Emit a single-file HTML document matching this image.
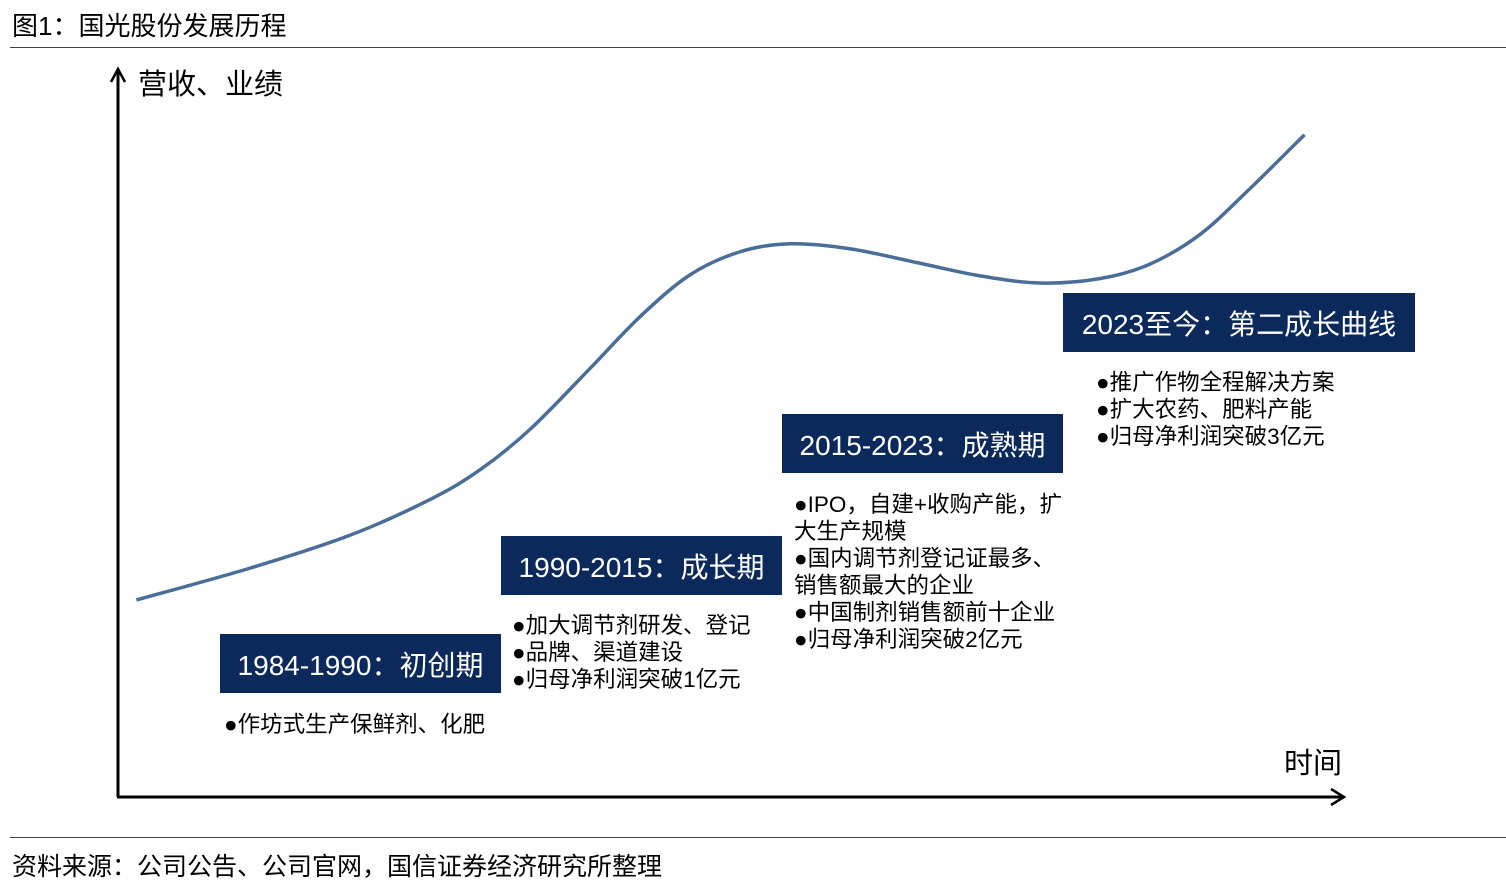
<!DOCTYPE html>
<html><head><meta charset="utf-8"><style>
body{margin:0;width:1506px;height:879px;background:#fff;position:relative;overflow:hidden;font-family:"Liberation Sans","Noto Sans CJK SC",sans-serif;color:#000}
.abs{position:absolute;white-space:nowrap}
.box{position:absolute;background:#0b2a5b;color:#fff;font-size:28px;display:flex;align-items:center;justify-content:center}
.txt{position:absolute;font-size:22.5px;line-height:27px;white-space:nowrap}
</style></head><body>
<div class="abs" style="left:12px;top:6px;font-size:26px">图1：国光股份发展历程</div>
<div class="abs" style="left:10px;top:47px;width:1496px;height:1px;background:#444"></div>
<svg class="abs" style="left:0;top:0" width="1506" height="879">
<g id="axes"></g>
<path id="curve" fill="none" stroke="#4a6e98" stroke-width="3.5"/>
</svg>
<div class="abs" style="left:138px;top:61px;font-size:29px">营收、业绩</div>
<div class="abs" style="left:1284px;top:740px;font-size:29px">时间</div>
<div class="box" style="left:220px;top:634px;width:281px;height:59px">1984-1990：初创期</div>
<div class="box" style="left:501px;top:536px;width:281px;height:59px">1990-2015：成长期</div>
<div class="box" style="left:782px;top:414px;width:281px;height:59px">2015-2023：成熟期</div>
<div class="box" style="left:1063px;top:293px;width:352px;height:59px">2023至今：第二成长曲线</div>
<div class="txt" style="left:224px;top:711px">●作坊式生产保鲜剂、化肥</div>
<div class="txt" style="left:512px;top:612px">●加大调节剂研发、登记<br>●品牌、渠道建设<br>●归母净利润突破1亿元</div>
<div class="txt" style="left:794px;top:491px">●IPO，自建+收购产能，扩<br>大生产规模<br>●国内调节剂登记证最多、<br>销售额最大的企业<br>●中国制剂销售额前十企业<br>●归母净利润突破2亿元</div>
<div class="txt" style="left:1096px;top:369px">●推广作物全程解决方案<br>●扩大农药、肥料产能<br>●归母净利润突破3亿元</div>
<div class="abs" style="left:10px;top:837px;width:1496px;height:1px;background:#444"></div>
<div class="abs" style="left:12px;top:847px;font-size:25px">资料来源：公司公告、公司官网，国信证券经济研究所整理</div>
<script>
const timeVals=[1.5,10.8,18.9,25.4,29.5,33.6,38.5,42.5,46.6,50.7,54.8,59.7,65.4,70.2,75.1,80.0,84.1,88.2,92.2,96.7];
const growthVals=[27.1,31.5,36,40.9,45,50.6,59.0,66.0,71.8,75.0,76.1,75.4,73.4,71.7,70.7,71.3,73.3,77.4,83.6,91.1];
const X=v=>118+v*12.27, Y=v=>797-v*7.27;
const pts=timeVals.map((t,i)=>[X(t),Y(growthVals[i])]);
let d=`M${pts[0][0]},${pts[0][1]}`;
for(let i=0;i<pts.length-1;i++){
 const p0=pts[Math.max(0,i-1)],p1=pts[i],p2=pts[i+1],p3=pts[Math.min(pts.length-1,i+2)];
 d+=` C${p1[0]+(p2[0]-p0[0])/6},${p1[1]+(p2[1]-p0[1])/6} ${p2[0]-(p3[0]-p1[0])/6},${p2[1]-(p3[1]-p1[1])/6} ${p2[0]},${p2[1]}`;
}
document.getElementById('curve').setAttribute('d',d);
const g=document.getElementById('axes');
g.innerHTML=`<line x1="118" y1="797" x2="118" y2="72" stroke="#000" stroke-width="3"/>
<path d="M111,82 L118,69 L125,82" fill="none" stroke="#000" stroke-width="2.5"/>
<line x1="117" y1="797" x2="1342" y2="797" stroke="#000" stroke-width="3"/>
<path d="M1331,789 L1344,797 L1331,805" fill="none" stroke="#000" stroke-width="2.5"/>`;
</script>
</body></html>
